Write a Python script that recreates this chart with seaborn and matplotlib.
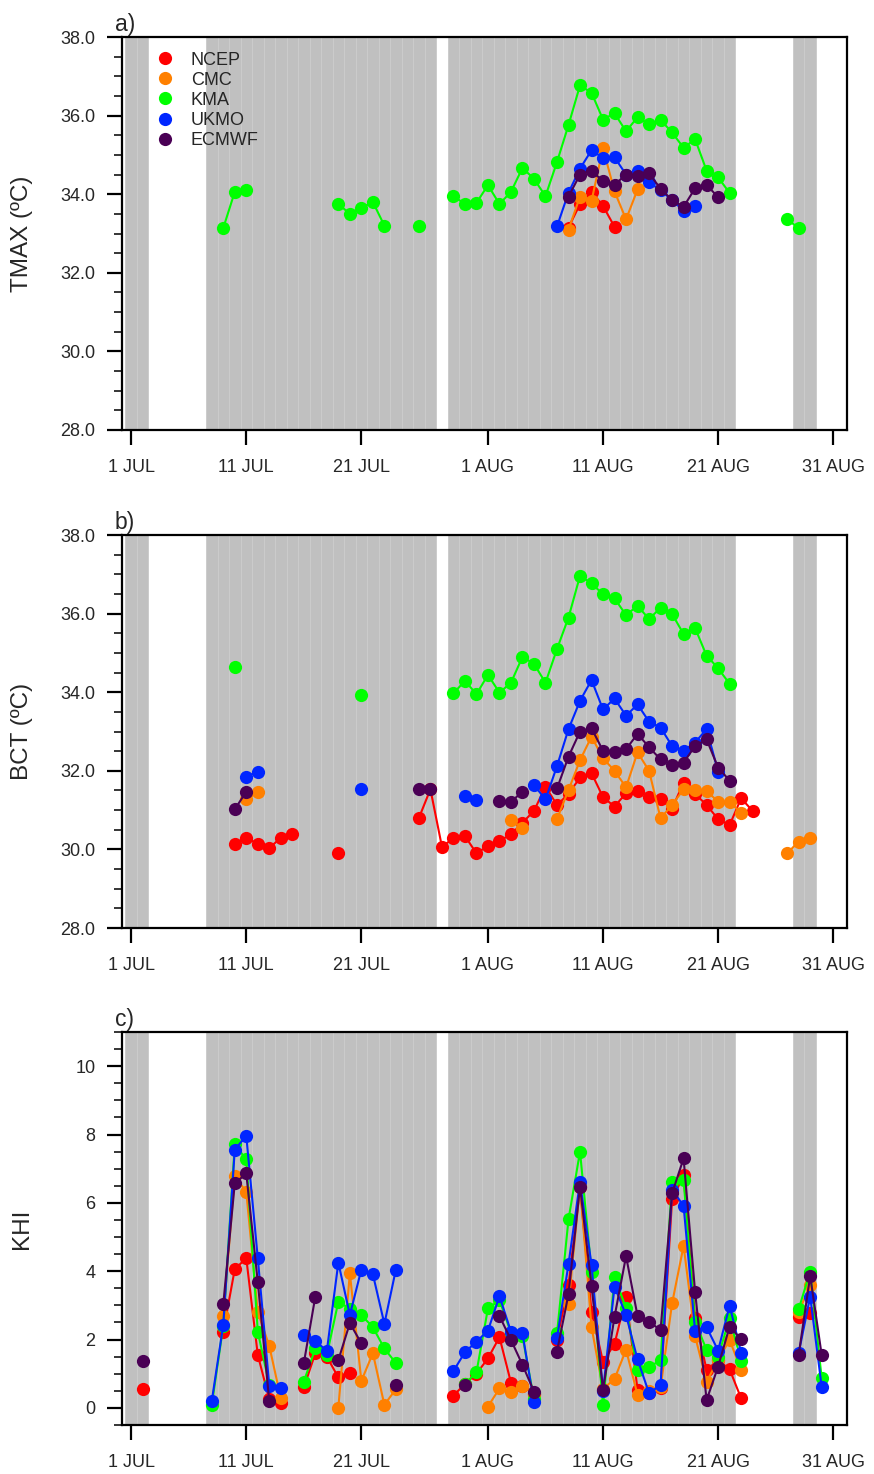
import numpy as np
import pandas as pd
import matplotlib
matplotlib.use("Agg")
import matplotlib.pyplot as plt
import matplotlib.dates as mdates
from matplotlib.lines import Line2D
from matplotlib.ticker import MultipleLocator, NullLocator, FormatStrFormatter
import seaborn as sns

# ---------------- data ----------------
START = "2017-07-01"
N_DAYS = 62
DATES = pd.date_range(START, periods=N_DAYS, freq="D")

MODELS = ["NCEP", "CMC", "KMA", "UKMO", "ECMWF"]
COLORS = ["#ff0000", "#ff8000", "#00ff00", "#0026ff", "#4a0055"]

# shaded days (inclusive day index counted from 1 JUL)
SHADE_RANGES = [(0, 1), (7, 26), (28, 52), (58, 59)]

XTICK_DAYS = [0, 10, 20, 31, 41, 51, 61]
XTICK_LABELS = ["1 JUL", "11 JUL", "21 JUL", "1 AUG", "11 AUG", "21 AUG", "31 AUG"]

# each series: list of (first day index, consecutive daily values)
TMAX_NCEP = [(38, [33.15, 33.75, 34.06, 33.70, 33.17])]
TMAX_CMC = [(38, [33.10, 33.94, 33.83, 35.17, 34.07, 33.36, 34.12])]
TMAX_KMA = [(8, [33.14, 34.06, 34.10]),
            (18, [33.75, 33.50, 33.65, 33.80, 33.20]),
            (25, [33.20]),
            (28, [33.95, 33.75, 33.78, 34.23, 33.75, 34.06, 34.67, 34.39, 33.95,
                  34.82, 35.76, 36.77, 36.58, 35.90, 36.06, 35.60, 35.96, 35.78,
                  35.89, 35.57, 35.18, 35.40, 34.60, 34.43, 34.03]),
            (57, [33.37, 33.13])]
TMAX_UKMO = [(37, [33.18, 34.04, 34.65, 35.12, 34.92, 34.94, 34.50, 34.60, 34.30,
                   34.10, 33.85, 33.58, 33.70])]
TMAX_ECMWF = [(38, [33.94, 34.50, 34.60, 34.33, 34.24, 34.50, 34.47, 34.53, 34.14,
                    33.85, 33.68, 34.15, 34.24, 33.92])]

BCT_NCEP = [(9, [30.14, 30.28, 30.15, 30.03, 30.30, 30.38]),
            (18, [29.90]),
            (25, [30.80, 31.53, 30.07, 30.28, 30.34, 29.90, 30.09, 30.22, 30.38,
                  30.68, 30.98, 31.60, 31.13, 31.41, 31.83, 31.94, 31.33, 31.09,
                  31.43, 31.49, 31.34, 31.28, 31.04, 31.70, 31.41, 31.13, 30.77,
                  30.62, 31.30, 30.98])]
BCT_CMC = [(10, [31.27, 31.45]),
           (33, [30.75, 30.54]),
           (37, [30.77, 31.51, 32.27, 32.87, 32.32, 32.00, 31.58, 32.47, 32.00,
                 30.79, 31.13, 31.53, 31.51, 31.49, 31.21, 31.21, 30.93]),
           (57, [29.90, 30.20, 30.30])]
BCT_KMA = [(9, [34.63]),
           (20, [33.93]),
           (28, [33.97, 34.29, 33.95, 34.44, 33.99, 34.24, 34.90, 34.72, 34.24,
                 35.10, 35.90, 36.96, 36.77, 36.49, 36.39, 35.96, 36.20, 35.86,
                 36.15, 35.99, 35.48, 35.63, 34.93, 34.61, 34.21])]
BCT_UKMO = [(10, [31.85, 31.98]),
            (20, [31.54]),
            (29, [31.36, 31.26]),
            (35, [31.64, 31.27, 32.12, 33.06, 33.78, 34.31, 33.56, 33.84, 33.40,
                  33.69, 33.25, 33.10, 32.63, 32.51, 32.72, 33.06, 31.98])]
BCT_ECMWF = [(9, [31.02, 31.47]),
             (25, [31.54, 31.53]),
             (32, [31.24, 31.21, 31.47]),
             (37, [31.55, 32.36, 33.00, 33.08, 32.51, 32.49, 32.55, 32.94, 32.60,
                   32.29, 32.15, 32.21, 32.63, 32.80, 32.08, 31.75])]

KHI_NCEP = [(1, [0.55]),
            (8, [2.23, 4.06, 4.38, 1.55, 0.25, 0.14]),
            (15, [0.60, 1.60, 1.50, 0.89, 1.01]),
            (28, [0.36, 0.70, 1.00, 1.45, 2.07, 0.74, 0.65, 0.40]),
            (37, [2.00, 3.60, 6.45, 2.82, 1.35, 1.87, 3.26, 0.53, 0.45, 0.58,
                  6.10, 6.81, 2.62, 1.11, 1.40, 1.13, 0.28]),
            (58, [2.67, 2.77])]
KHI_CMC = [(8, [2.69, 6.78, 6.32, 2.80, 1.81, 0.28]),
           (18, [0.01, 3.94, 0.79, 1.60, 0.09, 0.55]),
           (31, [0.04, 0.57, 0.48, 0.65, 0.40]),
           (38, [3.04, 6.50, 2.36, 0.55, 0.85, 1.70, 0.38, 0.50, 0.60, 3.06,
                 4.74, 2.10, 0.77, 1.40, 1.99, 1.11]),
           (58, [2.80, 3.60])]
KHI_KMA = [(7, [0.09, 2.40, 7.71, 7.27, 2.23, 0.67]),
           (15, [0.77, 1.74, 1.55, 3.11, 2.90, 2.72, 2.36, 1.74, 1.31]),
           (29, [0.70, 1.04, 2.91, 3.15, 2.20, 2.10, 0.25]),
           (37, [2.18, 5.52, 7.50, 3.99, 0.09, 3.84, 2.92, 1.11, 1.19, 1.40,
                 6.62, 6.67, 2.52, 1.70, 1.50, 2.62, 1.38]),
           (58, [2.89, 3.99, 0.87])]
KHI_UKMO = [(7, [0.20, 2.43, 7.56, 7.96, 4.38, 0.64, 0.58]),
            (15, [2.13, 1.96, 1.67, 4.25, 2.72, 4.05, 3.91, 2.46, 4.05]),
            (28, [1.08, 1.63, 1.94, 2.26, 3.27, 2.23, 2.18, 0.16]),
            (37, [2.04, 4.21, 6.62, 4.18, 0.50, 3.55, 2.72, 1.42, 0.43, 0.67,
                  6.39, 5.91, 2.26, 2.36, 1.68, 2.99, 1.62]),
            (58, [1.60, 3.26, 0.62])]
KHI_ECMWF = [(1, [1.38]),
             (8, [3.03, 6.57, 6.86, 3.68, 0.19]),
             (15, [1.31, 3.26]),
             (18, [1.40, 2.48, 1.89]),
             (23, [0.67]),
             (29, [0.67]),
             (32, [2.69, 1.99, 1.26, 0.48]),
             (37, [1.65, 3.33, 6.47, 3.57, 0.53, 2.67, 4.44, 2.69, 2.52, 2.28,
                   6.28, 7.30, 3.40, 0.23, 1.21, 2.38, 2.01]),
             (58, [1.55, 3.86, 1.55])]

PANELS = [
    dict(tag="a)", ylabel="TMAX (\u00baC)", ylim=(28.0, 38.0), fmt="%.1f",
         series=[TMAX_NCEP, TMAX_CMC, TMAX_KMA, TMAX_UKMO, TMAX_ECMWF], legend=True),
    dict(tag="b)", ylabel="BCT (\u00baC)", ylim=(28.0, 38.0), fmt="%.1f",
         series=[BCT_NCEP, BCT_CMC, BCT_KMA, BCT_UKMO, BCT_ECMWF], legend=False),
    dict(tag="c)", ylabel="KHI", ylim=(-0.5, 11.0), fmt="%d",
         series=[KHI_NCEP, KHI_CMC, KHI_KMA, KHI_UKMO, KHI_ECMWF], legend=False),
]


def to_frame(series_list):
    rows = []
    for model, segs in zip(MODELS, series_list):
        for k, (start, vals) in enumerate(segs):
            for i, v in enumerate(vals):
                rows.append(dict(model=model, date=DATES[start + i], value=v,
                                 seg=f"{model}-{k}"))
    return pd.DataFrame(rows)


# ---------------- style ----------------
sns.set_theme(style="ticks")
plt.rcParams["font.family"] = ["Liberation Sans", "DejaVu Sans"]
plt.rcParams["axes.linewidth"] = 1.6

DNUM = mdates.date2num(DATES)

fig = plt.figure(figsize=(8.74, 14.74), dpi=100)
W, H = 874.0, 1474.0
left, width = 122 / W, 725 / W
tops = [37, 535, 1032]
ax_h = 393

for p, top in zip(PANELS, tops):
    ax = fig.add_axes([left, 1 - (top + ax_h) / H, width, ax_h / H])

    for lo, hi in SHADE_RANGES:
        for d in range(lo, hi + 1):
            ax.axvspan(DNUM[0] + d - 0.5, DNUM[0] + d + 0.5, facecolor="#c0c0c0",
                       edgecolor="#cccccc", linewidth=0.7, zorder=0)

    df = to_frame(p["series"])
    sns.lineplot(data=df, x="date", y="value", hue="model", hue_order=MODELS,
                 palette=COLORS, units="seg", estimator=None, marker="o",
                 markersize=9.5, markeredgewidth=0, linewidth=1.5,
                 legend=False, ax=ax, zorder=3)

    ax.set_xlim(DNUM[0] - 0.8, DNUM[0] + 62.2)
    ax.set_ylim(*p["ylim"])
    ax.set_xticks([DNUM[0] + d for d in XTICK_DAYS])
    ax.set_xticklabels(XTICK_LABELS)
    ax.xaxis.set_minor_locator(NullLocator())
    lo_y = 28.0 if p["ylim"][0] > 0 else 0.0
    ax.set_yticks(np.arange(lo_y, p["ylim"][1] + 0.01, 2.0))
    ax.yaxis.set_minor_locator(MultipleLocator(0.5))
    ax.yaxis.set_major_formatter(FormatStrFormatter(p["fmt"]))

    ax.tick_params(axis="both", which="major", direction="out", length=11,
                   width=1.6, labelsize=13, color="black")
    ax.tick_params(axis="y", which="major", pad=8)
    ax.tick_params(axis="x", which="major", pad=10)
    ax.tick_params(axis="y", which="minor", direction="out", length=6, width=1.3)
    ax.tick_params(top=False, right=False, which="both")
    for s in ax.spines.values():
        s.set_visible(True)
        s.set_color("black")
        s.set_linewidth(1.6)

    ax.set_xlabel("")
    ax.set_ylabel(p["ylabel"], fontsize=17.5)
    ax.yaxis.set_label_coords(-0.123, 0.5)
    ax.text(-0.01, 1.003, p["tag"], transform=ax.transAxes, fontsize=16.5,
            ha="left", va="bottom")
    ax.grid(False)

    if p["legend"]:
        handles = [Line2D([], [], marker="o", linestyle="none", color=c,
                          markersize=9.5, markeredgewidth=0) for c in COLORS]
        ax.legend(handles, MODELS, loc="upper left", bbox_to_anchor=(0.025, 1.004),
                  frameon=False, fontsize=13, handlelength=1.0, handletextpad=0.9,
                  labelspacing=0.17, borderpad=0.4)

fig.savefig("out.png", dpi=100)
